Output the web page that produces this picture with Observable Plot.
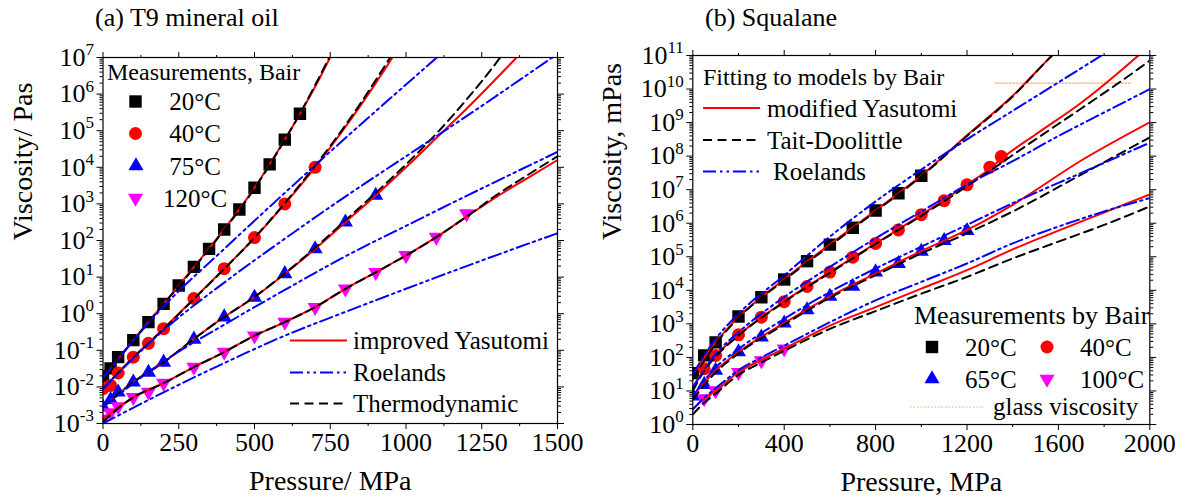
<!DOCTYPE html>
<html><head><meta charset="utf-8">
<script src="https://cdn.jsdelivr.net/npm/d3@7"></script>
<script src="https://cdn.jsdelivr.net/npm/@observablehq/plot@0.6"></script>
<style>
html,body{margin:0;padding:0;background:#fff}
#wrap{position:relative;width:1189px;height:502px;overflow:hidden;font-family:"Liberation Serif","Times New Roman",serif;color:#000}
.panel{position:absolute;top:0}
.title{position:absolute;top:2px;font-size:26px;line-height:32px;white-space:nowrap}
#legend{position:absolute;left:0;top:0;pointer-events:none}
</style></head><body><div id="wrap"></div>
<script>
// ---------- Panel (a) T9 mineral oil : measurements (Pa·s) ----------
const pA20 = [0,25,50,100,150,200,250,300,350,400,450,500,550,600,650];
const vA20 = [0.02,0.032,0.065,0.19,0.59,1.86,5.9,19,59,200,700,2750,12000,57000,290000];
const pA40 = [0,25,50,100,150,200,300,400,500,600,700];
const vA40 = [0.009,0.011,0.024,0.065,0.155,0.39,2.6,17,120,1000,10000];
const pA75 = [0,25,50,100,150,200,300,400,500,600,700,800,900];
const vA75 = [0.0028,0.0045,0.0072,0.0134,0.025,0.047,0.2,0.81,2.8,12.3,59,316,1700];
const pA120 = [0,25,50,100,150,200,300,400,500,600,700,800,900,1000,1100,1200];
const vA120 = [0.00135,0.002,0.0029,0.0052,0.0072,0.0126,0.035,0.089,0.25,0.59,1.5,4.8,13.5,39,123,540];

// improved Yasutomi (red)
const pYa20 = [0,100,200,300,400,500,600,650,700,750,780];
const vYa20 = [0.0178,0.19,1.86,18.6,204,2750,57500,2.88e5,1.58e6,1e7,2.8e7];
const pYa40 = [0,100,200,300,400,500,600,700,800,900,955,990];
const vYa40 = [0.0089,0.065,0.39,2.57,17,117,1000,1e4,1.26e5,2e6,1e7,3.16e7];
const pYa75 = [0,100,200,300,400,500,600,700,800,900,1000,1100,1200,1365,1400];
const vYa75 = [0.0028,0.0135,0.0468,0.204,0.813,2.82,12.3,58.9,316,1700,1e4,6.3e4,3.98e5,1e7,2e7];
const pYa120 = [0,100,200,300,400,500,600,700,800,900,1000,1100,1200,1300,1400,1500];
const vYa120 = [0.00135,0.0052,0.0126,0.0347,0.0891,0.251,0.589,1.51,4.79,13.5,38.9,123,447,1585,5010,1.58e4];
// Thermodynamic (black dashed)
const pTa20 = [0,100,200,300,400,500,600,650,700,750,780];
const vTa20 = [0.0178,0.186,1.82,17.8,195,2630,56200,2.95e5,1.74e6,1.12e7,3.16e7];
const pTa40 = [0,100,200,300,400,500,600,700,800,900,955,990];
const vTa40 = [0.0089,0.063,0.38,2.51,16.6,120,1050,1.1e4,1.41e5,2.4e6,1.26e7,4e7];
const pTa75 = [0,100,200,300,400,500,600,700,800,900,1000,1100,1200,1311,1350];
const vTa75 = [0.0028,0.0135,0.0468,0.204,0.813,2.88,12.6,63,355,2000,1.2e4,8.3e4,7.1e5,1e7,2.8e7];
const pTa120 = [0,100,200,300,400,500,600,700,800,900,1000,1100,1200,1300,1400,1500];
const vTa120 = [0.00112,0.0052,0.0126,0.0347,0.0891,0.251,0.589,1.51,4.79,13.5,38.9,123,447,1780,6030,2e4];
// Roelands (blue dash-dot)
const pRa20 = [0,200,400,600,800,1000,1150];
const vRa20 = [0.0178,1.58,58.9,2000,6.3e4,1.82e6,2.24e7];
const pRa40 = [0,200,400,600,800,1000,1200,1500];
const vRa40 = [0.0089,0.355,7.08,112,1585,2e4,2.5e5,1.26e7];
const pRa75 = [0,200,400,600,800,1000,1200,1500];
const vRa75 = [0.0028,0.05,0.5,4.47,37,251,1660,2.63e4];
const pRa120 = [0,200,400,600,800,1000,1200,1500];
const vRa120 = [0.001,0.0071,0.0447,0.251,1.12,4.79,20,158];

const xTicksA = [0,250,500,750,1000,1250,1500];
const xMinorA = [125,375,625,875,1125,1375];
const yTicksA = [1e-3,1e-2,1e-1,1e0,1e1,1e2,1e3,1e4,1e5,1e6,1e7];

// ---------- Panel (b) Squalane : measurements (mPa·s) ----------
const pB20 = [0,50,100,200,300,400,500,600,700,800,900,1000];
const vB20 = [34,115,280,1660,6200,21000,74000,2.3e5,7.3e5,2.4e6,7.8e6,2.6e7];
const pB40 = [50,100,200,300,400,500,600,700,800,900,1000,1100,1200,1300,1350];
const vB40 = [46,114,470,1580,4600,1.3e4,3.5e4,9.7e4,2.5e5,6.3e5,1.8e6,4.7e6,1.4e7,4.7e7,9.7e7];
const pB65 = [0,50,100,200,300,400,500,600,700,800,900,1000,1100,1200];
const vB65 = [7,15.5,41,145,400,1050,2600,6600,1.3e4,3.5e4,6.2e4,1.45e5,3e5,6e5];
const pB100 = [50,100,200,300,400];
const vB100 = [5.9,10.2,36,80,180];

// modified Yasutomi (red)
const pYb20 = [0,100,200,400,600,800,1000,1200,1400,1580,1620];
const vYb20 = [31.6,282,1585,2.14e4,2.34e5,2.4e6,2.63e7,4.17e8,6.3e9,1.12e11,2e11];
const pYb40 = [0,50,100,200,400,600,800,1000,1200,1300,1350,1500,1700,1950,2000];
const vYb40 = [12.6,45.7,115,468,4680,3.47e4,2.5e5,1.78e6,1.41e7,4.2e7,8.3e7,4.4e8,3.9e9,1e11,2e11];
const pYb65 = [0,100,200,400,600,800,1000,1200,1400,1700,2000];
const vYb65 = [7.08,40.7,145,1050,6610,3.16e4,1.48e5,6.31e5,3.55e6,7.41e7,1.02e9];
const pYb100 = [0,50,100,200,300,400,600,800,1000,1200,1400,1600,1800,2000];
const vYb100 = [2.82,5.89,10.2,36.3,85.1,182,891,3160,1.12e4,3.98e4,1.66e5,6.03e5,2.09e6,7.24e6];
// Tait-Doolittle (black dashed)
const pTb20 = [0,100,200,400,600,800,1000,1200,1400,1580,1620];
const vTb20 = [22.4,251,1510,2e4,2.14e5,2.24e6,2.5e7,3.98e8,6e9,1.12e11,2e11];
const pTb40 = [0,50,100,200,400,600,800,1000,1200,1500,1700,1950,2000];
const vTb40 = [10,39.8,105,447,4470,3.31e4,2.4e5,1.66e6,1.26e7,3.16e8,2.63e9,3.98e10,7.08e10];
const pTb65 = [0,100,200,400,600,800,1000,1200,1400,1700,2000];
const vTb65 = [5.62,35.5,132,955,6030,2.82e4,1.26e5,5.01e5,2.24e6,2.82e7,3.63e8];
const pTb100 = [0,50,100,200,300,400,600,800,1000,1200,1400,1600,1800,2000];
const vTb100 = [2,4.47,8.32,30.2,70.8,158,708,2400,7940,2.51e4,8.91e4,2.82e5,8.91e5,3.16e6];
// Roelands (blue dash-dot)
const pRb20 = [0,100,200,400,600,800,1000,1200,1400,1600,1800];
const vRb20 = [31.6,355,2000,2.8e4,4e5,4.47e6,3.98e7,3.16e8,2.24e9,1.58e10,1.12e11];
const pRb40 = [0,100,200,400,600,800,1000,1200,1400,1600,1800,2000];
const vRb40 = [12.6,126,562,6310,5.01e4,3.55e5,2.24e6,1.41e7,7.08e7,3.98e8,2e9,1e10];
const pRb65 = [0,100,200,400,600,800,1000,1200,1400,1700,2000];
const vRb65 = [7.08,50.1,178,1410,8910,4.47e4,2e5,8.91e5,3.98e6,3.16e7,2.51e8];
const pRb100 = [0,50,100,200,300,400,600,800,1000,1200,1400,1600,1800,2000];
const vRb100 = [2.82,6.31,12,41.7,100,224,1120,5010,1.78e4,6.31e4,2.51e5,7.94e5,2.24e6,5.62e6];
// glass viscosity (orange dotted)
const pGlass = [1325,1915];
const vGlass = [1.5e10,1.5e10];

const xTicksB = [0,400,800,1200,1600,2000];
const xMinorB = [200,600,1000,1400,1800];
const yTicksB = [1e0,1e1,1e2,1e3,1e4,1e5,1e6,1e7,1e8,1e9,1e10,1e11];

// ---------- helpers ----------
const FONT = '"Liberation Serif","Times New Roman",serif';
const RED = "#ff0000", BLUE = "#0000ff", MAG = "#ff00ff", BLK = "#000000";
const DASH = "9,5.5", DASHDOT = "13,4,2.5,4,2.5,4";
const rows = (p, v) => p.map((x, i) => ({p: x, v: v[i]}));
const minorLog = m => { const o = []; for (let i = 0; i < m.length - 1; i++) for (let k = 2; k <= 9; k++) o.push(m[i] * k); return o; };
const expFmt = d => "10^" + Math.round(Math.log10(d));
const R_SQ = 7, R_CI = 6.5, R_TR = 5.6;

function axes(xT, xM, yT) {
  const yM = minorLog(yT);
  const none = () => "";
  return [
    Plot.axisX({anchor: "bottom", ticks: xT, tickSize: 6, tickPadding: 3, tickFormat: d => String(d), fontSize: 26, label: null}),
    Plot.axisX({anchor: "bottom", ticks: xM, tickSize: 3, tickFormat: none, label: null}),
    Plot.axisX({anchor: "top", ticks: xT, tickSize: 6, tickFormat: none, label: null}),
    Plot.axisX({anchor: "top", ticks: xM, tickSize: 3, tickFormat: none, label: null}),
    Plot.axisY({anchor: "left", ticks: yT, tickSize: 6, tickPadding: 3, tickFormat: expFmt, fontSize: 26, label: null}),
    Plot.axisY({anchor: "left", ticks: yM, tickSize: 3, tickFormat: none, label: null}),
    Plot.axisY({anchor: "right", ticks: yT, tickSize: 6, tickFormat: none, label: null}),
    Plot.axisY({anchor: "right", ticks: yM, tickSize: 3, tickFormat: none, label: null})
  ];
}
const red = (p, v) => Plot.line(rows(p, v), {x: "p", y: "v", stroke: RED, strokeWidth: 2, curve: "monotone-x", clip: true});
const blk = (p, v) => Plot.line(rows(p, v), {x: "p", y: "v", stroke: BLK, strokeWidth: 2, strokeDasharray: DASH, curve: "monotone-x", clip: true});
const blu = (p, v) => Plot.line(rows(p, v), {x: "p", y: "v", stroke: BLUE, strokeWidth: 2, strokeDasharray: DASHDOT, curve: "monotone-x", clip: true});
const dots = (p, v, symbol, fill, r, rotate = 0) => Plot.dot(rows(p, v), {x: "p", y: "v", symbol, fill, r, rotate, stroke: "none", clip: true});

function superscripts(svg) {
  svg.querySelectorAll('g[aria-label="y-axis tick label"] text').forEach(t => {
    const s = t.textContent;
    if (!s.includes("^")) return;
    const [b, e] = s.split("^");
    t.textContent = "";
    const ns = "http://www.w3.org/2000/svg";
    const t1 = document.createElementNS(ns, "tspan"); t1.textContent = b; t.appendChild(t1);
    const t2 = document.createElementNS(ns, "tspan"); t2.textContent = e;
    t2.setAttribute("dy", "-0.62em"); t2.setAttribute("font-size", "17px"); t.appendChild(t2);
  });
}

const wrap = document.getElementById("wrap");

// ---------- Panel (a) ----------
const plotA = Plot.plot({
  width: 595, height: 502,
  marginLeft: 102.5, marginRight: 38, marginTop: 57, marginBottom: 79,
  style: {fontFamily: FONT, fontSize: "26px", color: "#000", background: "transparent", overflow: "visible"},
  x: {domain: [0, 1500]},
  y: {type: "log", domain: [1e-3, 1e7]},
  marks: [
    dots(pA20, vA20, "square", BLK, R_SQ),
    dots(pA40, vA40, "circle", RED, R_CI),
    dots(pA75, vA75, "triangle", BLUE, R_TR),
    dots(pA120, vA120, "triangle", MAG, R_TR, 180),
    red(pYa20, vYa20), red(pYa40, vYa40), red(pYa75, vYa75), red(pYa120, vYa120),
    blk(pTa20, vTa20), blk(pTa40, vTa40), blk(pTa75, vTa75), blk(pTa120, vTa120),
    blu(pRa20, vRa20), blu(pRa40, vRa40), blu(pRa75, vRa75), blu(pRa120, vRa120),
    ...axes(xTicksA, xMinorA, yTicksA),
    Plot.frame({stroke: "#000", strokeWidth: 1.2}),
    Plot.text(["Pressure/ MPa"], {text: d => d, frameAnchor: "bottom", dy: 66, fontSize: 28}),
    Plot.text(["Viscosity/ Pas"], {text: d => d, frameAnchor: "left", dx: -80, rotate: -90, fontSize: 28})
  ]
});
superscripts(plotA);
plotA.classList.add("panel"); plotA.style.left = "0px";
wrap.appendChild(plotA);

// ---------- Panel (b) ----------
const plotB = Plot.plot({
  width: 594, height: 502,
  marginLeft: 97.3, marginRight: 39.7, marginTop: 55, marginBottom: 78,
  style: {fontFamily: FONT, fontSize: "26px", color: "#000", background: "transparent", overflow: "visible"},
  x: {domain: [0, 2000]},
  y: {type: "log", domain: [1e0, 1e11]},
  marks: [
    Plot.line(rows(pGlass, vGlass), {x: "p", y: "v", stroke: "#f9c596", strokeWidth: 1.6, strokeDasharray: "1.5,2", clip: true}),
    dots(pB20, vB20, "square", BLK, R_SQ),
    dots(pB40, vB40, "circle", RED, R_CI),
    dots(pB65, vB65, "triangle", BLUE, R_TR),
    dots(pB100, vB100, "triangle", MAG, R_TR, 180),
    red(pYb20, vYb20), red(pYb40, vYb40), red(pYb65, vYb65), red(pYb100, vYb100),
    blk(pTb20, vTb20), blk(pTb40, vTb40), blk(pTb65, vTb65), blk(pTb100, vTb100),
    blu(pRb20, vRb20), blu(pRb40, vRb40), blu(pRb65, vRb65), blu(pRb100, vRb100),
    ...axes(xTicksB, xMinorB, yTicksB),
    Plot.frame({stroke: "#000", strokeWidth: 1.2}),
    Plot.text(["Pressure, MPa"], {text: d => d, frameAnchor: "bottom", dy: 66, fontSize: 28}),
    Plot.text(["Viscosity, mPas"], {text: d => d, frameAnchor: "left", dx: -81, rotate: -90, fontSize: 28})
  ]
});
superscripts(plotB);
plotB.classList.add("panel"); plotB.style.left = "595px";
wrap.appendChild(plotB);

// ---------- titles ----------
for (const [txt, left] of [["(a) T9 mineral oil", 95], ["(b) Squalane", 705]]) {
  const d = document.createElement("div");
  d.className = "title"; d.textContent = txt; d.style.left = left + "px";
  wrap.appendChild(d);
}

// ---------- legends ----------
const lg = d3.select(wrap).append("svg").attr("id", "legend").attr("width", 1189).attr("height", 502)
  .style("font-family", FONT);
const symMap = {square: d3.symbolSquare, circle: d3.symbolCircle, triangle: d3.symbolTriangle};
function lsym(x, y, type, color, r, rot = 0) {
  lg.append("path").attr("d", d3.symbol(symMap[type], Math.PI * r * r)())
    .attr("transform", `translate(${x},${y}) rotate(${rot})`).attr("fill", color);
}
function lline(x1, x2, y, color, dash, w = 2) {
  lg.append("line").attr("x1", x1).attr("x2", x2).attr("y1", y).attr("y2", y)
    .attr("stroke", color).attr("stroke-width", w).attr("stroke-dasharray", dash);
}
function ltext(x, y, s, size = 25, anchor = "start") {
  lg.append("text").attr("x", x).attr("y", y).attr("dy", "0.35em").attr("font-size", size)
    .attr("text-anchor", anchor).attr("fill", "#000").text(s);
}
// (a) measurements legend
ltext(107, 72, "Measurements, Bair", 24);
lsym(135.5, 101.5, "square", BLK, R_SQ); ltext(195, 101.5, "20°C", 25, "middle");
lsym(135.5, 133.5, "circle", RED, R_CI); ltext(195, 133.5, "40°C", 25, "middle");
lsym(136, 166, "triangle", BLUE, R_TR); ltext(195, 166, "75°C", 25, "middle");
lsym(135.5, 198, "triangle", MAG, R_TR, 180); ltext(195, 198, "120°C", 25, "middle");
// (a) model legend
lline(290, 347, 340.5, RED, null);
ltext(353, 340.5, "improved Yasutomi", 25);
lline(290, 347, 372.5, BLUE, DASHDOT);
ltext(353, 372.5, "Roelands", 25);
lline(290, 347, 403.5, BLK, DASH);
ltext(353, 403.5, "Thermodynamic", 25);
// (b) model legend
ltext(703, 77, "Fitting to models by Bair", 24);
lline(703, 760, 108, RED, null); ltext(767, 108, "modified Yasutomi", 25);
lline(703, 760, 140, BLK, DASH); ltext(767, 140, "Tait-Doolittle", 25);
lline(703, 760, 171.5, BLUE, DASHDOT); ltext(773, 171.5, "Roelands", 25);
// (b) measurements legend
ltext(914, 315, "Measurements by Bair", 26);
lsym(932, 347, "square", BLK, R_SQ); ltext(965, 347, "20°C", 25);
lsym(1047, 347, "circle", RED, R_CI); ltext(1080, 347, "40°C", 25);
lsym(932, 379, "triangle", BLUE, R_TR); ltext(965, 379, "65°C", 25);
lsym(1047, 379, "triangle", MAG, R_TR, 180); ltext(1080, 379, "100°C", 25);
lline(910, 984, 407, "#f9c596", "1.5,2", 1.6); ltext(993, 406, "glass viscosity", 25);
</script></body></html>
